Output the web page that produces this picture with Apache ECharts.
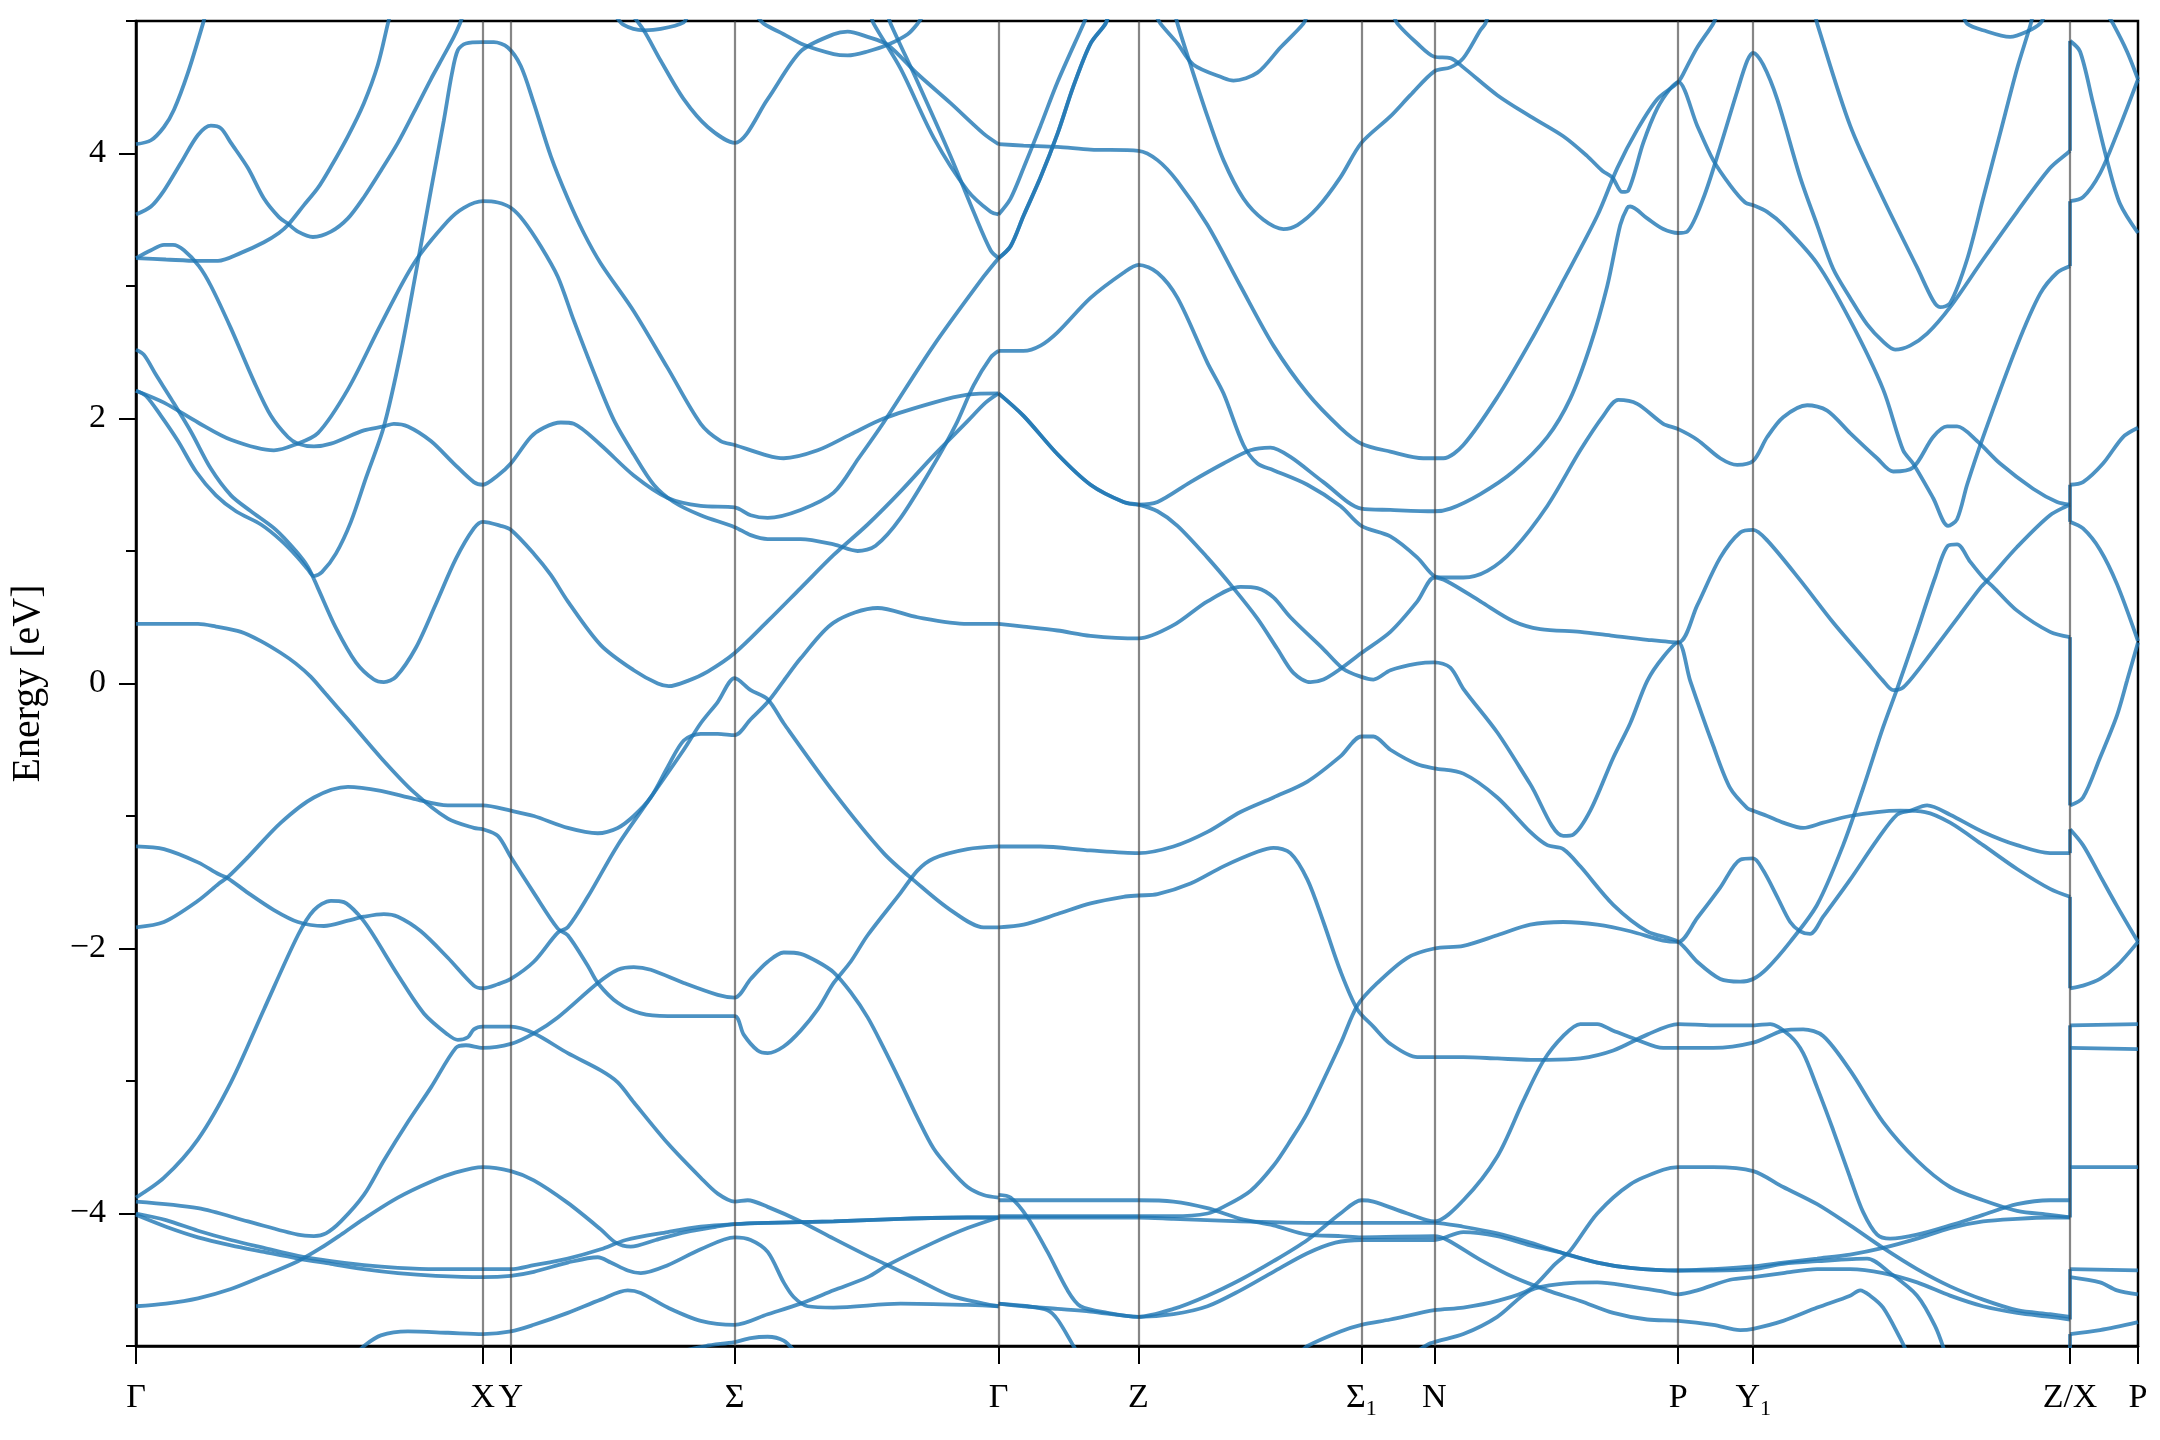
<!DOCTYPE html>
<html><head><meta charset="utf-8">
<script src="https://cdn.jsdelivr.net/npm/echarts@6/dist/echarts.min.js"></script>
<style>html,body{margin:0;padding:0;background:#fff}#c{width:2160px;height:1440px}</style>
</head><body><div id="c"></div>
<script>
// k-path positions (arbitrary path-length units) and labels
const kPoints = [0, 347, 375, 599, 863, 1003, 1226, 1299, 1543, 1618, 1935, 2003];
const kLabels = ['Γ','X','Y','Σ','Γ','Z','Σ1','N','P','Y1','Z/X','P'];
const eTicks = [-4, -2, 0, 2, 4];
const eMinorTicks = [-5, -3, -1, 1, 3, 5];

// ---- bands: [k, E(eV)] ----
const a1 = [[0,4.07],[15,4.1],[28,4.2],[38,4.33],[52,4.61],[67,4.98],[72,5.12]];
const a2 = [[0,3.54],[15,3.6],[28,3.72],[45,3.93],[62,4.14],[75,4.21],[85,4.19],[95,4.08],[112,3.89],[128,3.66],[143,3.52],[152,3.47],[162,3.41],[177,3.37],[195,3.41],[212,3.51],[228,3.67],[245,3.87],[262,4.08],[278,4.31],[295,4.56],[308,4.74],[318,4.88],[324,4.98],[328,5.06]];
const a3 = [[0,3.21],[30,3.2],[62,3.19],[82,3.19],[105,3.25],[128,3.33],[143,3.4],[152,3.46],[168,3.61],[182,3.74],[195,3.9],[212,4.13],[228,4.38],[242,4.67],[252,4.98],[256,5.1]];
const a4 = [[0,3.21],[15,3.27],[28,3.31],[37,3.31],[48,3.27],[63,3.15],[75,3.0],[95,2.68],[118,2.28],[135,2.02],[152,1.86],[162,1.81],[178,1.79],[195,1.81],[228,1.91],[248,1.94],[258,1.96],[272,1.94],[295,1.83],[318,1.66],[338,1.52],[347,1.5],[362,1.57],[375,1.66],[395,1.86],[408,1.93],[425,1.97],[438,1.96],[465,1.8],[498,1.57],[532,1.4],[565,1.34],[599,1.33],[615,1.27],[632,1.25],[665,1.31],[698,1.44],[723,1.7],[748,1.97],[798,2.55],[848,3.07],[863,3.21]];
const a5 = [[0,2.52],[8,2.48],[20,2.33],[35,2.15],[55,1.9],[75,1.62],[95,1.42],[115,1.3],[140,1.16],[160,1.0],[172,0.88],[182,0.72],[200,0.42],[220,0.16],[238,0.03],[248,0.01],[260,0.05],[280,0.27],[300,0.6],[320,0.94],[338,1.17],[347,1.22],[365,1.19],[375,1.16],[398,0.98],[415,0.82],[432,0.62],[465,0.29],[498,0.1],[522,0.0],[533,-0.02],[552,0.02],[572,0.09],[599,0.23],[632,0.47],[665,0.72],[698,0.97],[732,1.2],[765,1.45],[798,1.72],[832,1.98],[850,2.12],[863,2.19]];
const a6 = [[0,2.21],[10,2.17],[25,2.02],[42,1.83],[60,1.6],[80,1.42],[100,1.3],[125,1.2],[145,1.08],[162,0.95],[172,0.86],[178,0.81],[186,0.84],[200,0.98],[215,1.22],[230,1.55],[248,1.94],[265,2.5],[280,3.1],[295,3.72],[308,4.25],[316,4.6],[322,4.78],[330,4.83],[347,4.84],[358,4.84],[372,4.8],[385,4.66],[398,4.38],[415,3.98],[432,3.66],[448,3.4],[465,3.17],[498,2.81],[532,2.38],[565,1.96],[585,1.83],[599,1.8],[632,1.72],[648,1.7],[682,1.76],[715,1.88],[748,2.0],[798,2.12],[832,2.18],[863,2.19]];
const a7 = [[0,2.21],[28,2.12],[62,1.97],[95,1.84],[138,1.76],[158,1.8],[182,1.89],[212,2.22],[245,2.71],[278,3.17],[312,3.49],[328,3.59],[347,3.64],[362,3.63],[375,3.59],[388,3.49],[405,3.3],[422,3.07],[438,2.74],[458,2.35],[478,1.99],[498,1.73],[518,1.5],[538,1.37],[565,1.27],[599,1.18],[615,1.12],[632,1.09],[665,1.09],[698,1.05],[722,1.0],[740,1.04],[765,1.25],[798,1.65],[820,1.95],[838,2.25],[855,2.46],[863,2.51]];
const a8 = [[495,5.06],[508,4.93],[525,4.7],[548,4.41],[572,4.2],[599,4.08],[632,4.41],[665,4.77],[698,4.9],[712,4.92],[732,4.88],[752,4.82],[782,4.6],[815,4.38],[848,4.15],[863,4.07]];
const a9 = [[478,5.06],[488,4.97],[508,4.93],[525,4.94],[548,4.99],[552,5.05]];
const a10 = [[620,5.05],[628,4.98],[648,4.9],[668,4.82],[698,4.75],[712,4.74],[732,4.77],[752,4.82],[772,4.9],[782,4.98],[788,5.05]];
const a11 = [[735,5.05],[738,4.98],[765,4.64],[798,4.12],[832,3.72],[855,3.56],[863,3.54]];
const a12 = [[752,5.05],[755,4.98],[782,4.54],[815,3.98],[838,3.56],[855,3.27],[863,3.21]];
const d1 = [[0,0.45],[30,0.45],[62,0.45],[80,0.43],[105,0.39],[125,0.32],[145,0.23],[160,0.15],[175,0.05],[190,-0.08],[212,-0.27],[245,-0.56],[278,-0.82],[312,-1.02],[338,-1.09],[347,-1.1],[362,-1.15],[375,-1.31],[398,-1.58],[422,-1.85],[432,-1.9],[452,-2.13],[462,-2.26],[482,-2.41],[505,-2.49],[532,-2.51],[565,-2.51],[599,-2.51],[608,-2.65],[622,-2.77],[632,-2.79],[648,-2.74],[665,-2.62],[682,-2.46],[698,-2.26],[715,-2.1],[732,-1.9],[765,-1.58],[782,-1.41],[798,-1.32],[832,-1.25],[863,-1.23]];
const d2 = [[0,-1.23],[28,-1.25],[62,-1.35],[83,-1.44],[92,-1.47],[112,-1.58],[138,-1.71],[162,-1.8],[188,-1.83],[212,-1.79],[228,-1.76],[248,-1.74],[262,-1.76],[285,-1.87],[312,-2.07],[338,-2.28],[347,-2.3],[362,-2.27],[375,-2.23],[398,-2.1],[422,-1.88],[432,-1.84],[452,-1.61],[482,-1.22],[515,-0.86],[548,-0.5],[565,-0.3],[582,-0.14],[599,0.04],[615,-0.05],[632,-0.12],[648,-0.3],[698,-0.82],[748,-1.28],[782,-1.51],[815,-1.71],[848,-1.84],[863,-1.84]];
const d3 = [[0,-1.84],[28,-1.8],[62,-1.64],[83,-1.51],[92,-1.46],[112,-1.31],[145,-1.05],[178,-0.86],[212,-0.78],[245,-0.81],[278,-0.87],[312,-0.92],[347,-0.92],[375,-0.96],[398,-1.0],[432,-1.09],[462,-1.13],[482,-1.09],[498,-1.0],[515,-0.86],[532,-0.63],[548,-0.43],[565,-0.38],[582,-0.38],[599,-0.39],[615,-0.27],[632,-0.14],[648,0.02],[665,0.19],[698,0.46],[742,0.57],[782,0.5],[832,0.45],[863,0.45]];
const d4 = [[0,-3.88],[28,-3.73],[62,-3.44],[95,-3.01],[128,-2.46],[162,-1.9],[178,-1.71],[195,-1.64],[208,-1.65],[222,-1.74],[235,-1.87],[262,-2.2],[288,-2.49],[312,-2.65],[322,-2.69],[332,-2.67],[338,-2.61],[347,-2.59],[375,-2.59],[398,-2.64],[432,-2.79],[465,-2.92],[482,-3.01],[498,-3.16],[532,-3.47],[565,-3.73],[582,-3.85],[599,-3.91],[612,-3.9],[632,-3.95],[665,-4.06],[698,-4.19],[732,-4.32],[752,-4.39],[782,-4.5],[815,-4.62],[848,-4.68],[863,-4.7]];
const d5 = [[0,-3.91],[62,-3.96],[112,-4.06],[162,-4.16],[178,-4.17],[190,-4.15],[205,-4.06],[228,-3.86],[248,-3.6],[272,-3.31],[295,-3.05],[320,-2.75],[330,-2.73],[347,-2.75],[375,-2.72],[398,-2.64],[422,-2.52],[462,-2.26],[482,-2.16],[498,-2.14],[515,-2.16],[548,-2.26],[582,-2.35],[599,-2.37],[615,-2.23],[632,-2.1],[648,-2.03],[665,-2.04],[682,-2.1],[698,-2.18],[715,-2.33],[732,-2.52],[748,-2.75],[765,-3.01],[782,-3.28],[798,-3.51],[815,-3.67],[832,-3.8],[848,-3.86],[863,-3.88]];
const b1 = [[0,-4.0],[30,-4.05],[62,-4.13],[95,-4.2],[128,-4.26],[162,-4.32],[195,-4.36],[228,-4.39],[262,-4.41],[300,-4.42],[347,-4.42],[375,-4.42],[398,-4.39],[432,-4.34],[465,-4.27],[490,-4.2],[532,-4.14],[565,-4.1],[599,-4.08],[632,-4.07],[698,-4.06],[765,-4.04],[832,-4.03],[863,-4.03]];
const b2 = [[0,-4.01],[30,-4.1],[62,-4.18],[95,-4.24],[128,-4.29],[162,-4.34],[195,-4.38],[228,-4.42],[262,-4.45],[300,-4.47],[347,-4.48],[375,-4.47],[398,-4.44],[432,-4.37],[462,-4.33],[475,-4.37],[492,-4.43],[505,-4.45],[532,-4.39],[565,-4.27],[599,-4.18],[615,-4.2],[632,-4.29],[648,-4.52],[658,-4.63],[672,-4.7],[698,-4.71],[765,-4.68],[832,-4.69],[863,-4.7]];
const b3 = [[0,-4.7],[30,-4.68],[62,-4.64],[95,-4.57],[128,-4.47],[162,-4.36],[185,-4.26],[205,-4.16],[228,-4.04],[262,-3.88],[295,-3.76],[320,-3.69],[347,-3.65],[375,-3.68],[398,-3.75],[432,-3.92],[465,-4.12],[480,-4.22],[495,-4.25],[520,-4.2],[550,-4.14],[580,-4.1],[599,-4.08],[632,-4.07],[698,-4.06],[765,-4.04],[832,-4.03],[863,-4.03]];
const b5 = [[222,-5.05],[228,-5.0],[245,-4.92],[272,-4.89],[312,-4.9],[347,-4.91],[375,-4.89],[398,-4.84],[432,-4.75],[465,-4.65],[492,-4.58],[505,-4.6],[532,-4.71],[565,-4.81],[599,-4.84],[632,-4.76],[665,-4.68],[698,-4.58],[732,-4.48],[752,-4.39],[798,-4.22],[832,-4.11],[863,-4.03]];
const b6 = [[540,-5.05],[570,-5.0],[599,-4.97],[615,-4.94],[632,-4.93],[648,-4.96],[660,-5.05]];
const e1 = [[863,4.07],[888,4.06],[922,4.05],[955,4.03],[1003,4.02],[1022,3.95],[1042,3.79],[1072,3.46],[1105,3.0],[1138,2.55],[1172,2.19],[1205,1.93],[1226,1.81],[1255,1.75],[1288,1.7],[1299,1.7],[1308,1.7],[1328,1.8],[1362,2.16],[1395,2.58],[1428,3.04],[1462,3.53],[1482,3.89],[1502,4.18],[1522,4.41],[1543,4.54],[1552,4.66],[1562,4.8],[1578,4.98],[1582,5.05]];
const e2 = [[863,3.54],[875,3.66],[888,3.89],[905,4.21],[922,4.54],[948,4.98],[952,5.05]];
const e3 = [[863,3.21],[875,3.3],[888,3.53],[905,3.82],[922,4.15],[938,4.51],[955,4.83],[970,4.98],[973,5.05]];
const e4 = [[863,2.51],[888,2.51],[905,2.55],[922,2.65],[955,2.91],[988,3.1],[1003,3.16],[1022,3.1],[1042,2.91],[1072,2.42],[1088,2.19],[1108,1.8],[1122,1.66],[1138,1.61],[1172,1.5],[1205,1.34],[1226,1.19],[1255,1.11],[1282,0.95],[1299,0.81],[1308,0.8],[1328,0.8],[1352,0.85],[1378,1.01],[1412,1.34],[1445,1.76],[1468,2.02],[1483,2.14],[1502,2.11],[1528,1.96],[1543,1.92],[1562,1.84],[1585,1.7],[1602,1.65],[1618,1.68],[1632,1.86],[1648,2.01],[1672,2.1],[1692,2.06],[1715,1.89],[1742,1.7],[1758,1.6],[1778,1.63],[1798,1.86],[1812,1.94],[1822,1.94],[1842,1.83],[1865,1.66],[1898,1.47],[1922,1.37],[1935,1.35]];
const e5 = [[863,2.19],[888,2.02],[922,1.73],[955,1.5],[988,1.37],[1003,1.35],[1022,1.37],[1055,1.52],[1088,1.66],[1115,1.76],[1135,1.78],[1155,1.71],[1188,1.52],[1226,1.32],[1255,1.31],[1299,1.3],[1315,1.32],[1345,1.43],[1378,1.6],[1412,1.86],[1435,2.15],[1455,2.55],[1472,3.0],[1485,3.46],[1492,3.59],[1495,3.6],[1512,3.51],[1528,3.43],[1543,3.4],[1552,3.41],[1568,3.66],[1585,4.05],[1602,4.47],[1612,4.7],[1618,4.76],[1628,4.67],[1642,4.41],[1665,3.82],[1682,3.46],[1698,3.13],[1715,2.91],[1732,2.71],[1748,2.58],[1760,2.52],[1775,2.55],[1792,2.64],[1815,2.84],[1848,3.2],[1882,3.56],[1915,3.89],[1932,4.0],[1935,4.02]];
const h1 = [[863,2.19],[888,2.02],[922,1.73],[955,1.5],[988,1.37],[1003,1.35],[1022,1.3],[1042,1.19],[1072,0.95],[1098,0.72],[1122,0.49],[1142,0.26],[1158,0.08],[1175,0.01],[1188,0.03],[1205,0.11],[1226,0.23],[1255,0.39],[1282,0.62],[1299,0.8],[1312,0.77],[1345,0.62],[1378,0.47],[1405,0.41],[1445,0.39],[1478,0.36],[1512,0.33],[1543,0.31],[1562,0.59],[1585,0.95],[1605,1.14],[1618,1.16],[1632,1.08],[1665,0.78],[1698,0.46],[1732,0.16],[1748,0.02],[1758,-0.05],[1768,-0.03],[1785,0.12],[1805,0.32],[1825,0.52],[1845,0.72],[1855,0.8],[1882,1.03],[1915,1.27],[1935,1.35]];
const e6 = [[863,0.45],[888,0.43],[922,0.4],[955,0.36],[1003,0.34],[1038,0.44],[1072,0.62],[1105,0.73],[1122,0.72],[1138,0.65],[1155,0.5],[1188,0.26],[1208,0.11],[1226,0.05],[1238,0.03],[1255,0.1],[1282,0.15],[1299,0.16],[1315,0.12],[1328,-0.04],[1362,-0.37],[1395,-0.76],[1428,-1.15],[1438,-1.14],[1455,-0.96],[1478,-0.56],[1495,-0.3],[1512,0.02],[1528,0.2],[1543,0.31],[1555,0.02],[1578,-0.47],[1595,-0.79],[1612,-0.94],[1618,-0.96],[1632,-1.0],[1648,-1.05],[1668,-1.09],[1688,-1.05],[1715,-1.0],[1742,-0.97],[1765,-0.96],[1790,-0.97],[1815,-1.05],[1848,-1.22],[1882,-1.4],[1915,-1.55],[1935,-1.61]];
const e7 = [[863,-1.23],[905,-1.23],[955,-1.26],[1003,-1.28],[1038,-1.23],[1072,-1.12],[1105,-0.97],[1138,-0.86],[1172,-0.74],[1205,-0.55],[1226,-0.4],[1238,-0.4],[1255,-0.5],[1282,-0.61],[1299,-0.64],[1328,-0.68],[1362,-0.86],[1395,-1.12],[1412,-1.22],[1428,-1.25],[1445,-1.38],[1478,-1.67],[1512,-1.87],[1543,-1.95],[1562,-2.1],[1585,-2.23],[1605,-2.25],[1618,-2.23],[1632,-2.15],[1655,-1.95],[1682,-1.67],[1708,-1.22],[1728,-0.79],[1748,-0.33],[1762,-0.04],[1780,0.35],[1800,0.8],[1813,1.04],[1822,1.05],[1835,0.92],[1848,0.8],[1858,0.73],[1882,0.55],[1915,0.39],[1935,0.35]];
const e8 = [[863,-1.84],[888,-1.82],[922,-1.74],[955,-1.66],[988,-1.61],[1003,-1.6],[1022,-1.59],[1055,-1.51],[1088,-1.38],[1122,-1.27],[1138,-1.24],[1155,-1.28],[1172,-1.48],[1188,-1.8],[1205,-2.17],[1222,-2.46],[1238,-2.59],[1255,-2.72],[1282,-2.82],[1299,-2.82],[1328,-2.82],[1362,-2.83],[1395,-2.84],[1412,-2.84],[1445,-2.83],[1478,-2.77],[1512,-2.65],[1543,-2.57],[1578,-2.58],[1618,-2.58],[1635,-2.57],[1655,-2.66],[1668,-2.79],[1682,-3.05],[1698,-3.37],[1715,-3.73],[1728,-3.99],[1742,-4.16],[1755,-4.19],[1782,-4.16],[1815,-4.09],[1848,-4.01],[1882,-3.93],[1915,-3.9],[1935,-3.9]];
const e9 = [[863,-4.02],[905,-4.02],[955,-4.02],[1003,-4.02],[1038,-4.02],[1072,-4.0],[1088,-3.95],[1115,-3.83],[1138,-3.64],[1155,-3.45],[1172,-3.24],[1205,-2.72],[1222,-2.43],[1242,-2.26],[1272,-2.07],[1299,-2.0],[1328,-1.98],[1362,-1.9],[1395,-1.82],[1428,-1.8],[1462,-1.82],[1495,-1.87],[1528,-1.94],[1543,-1.95],[1562,-1.77],[1585,-1.54],[1605,-1.33],[1618,-1.32],[1628,-1.41],[1642,-1.61],[1655,-1.8],[1665,-1.87],[1675,-1.89],[1688,-1.76],[1715,-1.48],[1742,-1.18],[1762,-0.99],[1775,-0.96],[1792,-0.92],[1815,-0.99],[1848,-1.12],[1882,-1.22],[1915,-1.28],[1935,-1.28]];
const e10 = [[863,-3.9],[905,-3.9],[955,-3.9],[1003,-3.9],[1038,-3.91],[1072,-3.96],[1105,-4.04],[1138,-4.09],[1172,-4.16],[1205,-4.17],[1226,-4.18],[1299,-4.17],[1312,-4.2],[1345,-4.35],[1378,-4.48],[1412,-4.58],[1445,-4.66],[1478,-4.75],[1512,-4.8],[1543,-4.81],[1578,-4.84],[1605,-4.88],[1618,-4.87],[1648,-4.81],[1682,-4.71],[1715,-4.62],[1725,-4.58],[1735,-4.62],[1748,-4.71],[1765,-4.94],[1772,-5.05]];
const e11 = [[863,-3.86],[875,-3.88],[892,-4.03],[912,-4.29],[932,-4.58],[945,-4.7],[972,-4.75],[1003,-4.78],[1038,-4.72],[1072,-4.62],[1105,-4.5],[1138,-4.36],[1172,-4.2],[1205,-4.0],[1226,-3.9],[1238,-3.91],[1272,-4.0],[1299,-4.06],[1328,-3.9],[1362,-3.57],[1388,-3.15],[1408,-2.85],[1428,-2.66],[1445,-2.57],[1462,-2.57],[1478,-2.62],[1502,-2.69],[1528,-2.75],[1543,-2.75],[1578,-2.75],[1618,-2.71],[1648,-2.62],[1668,-2.61],[1688,-2.66],[1715,-2.92],[1748,-3.31],[1782,-3.6],[1815,-3.8],[1848,-3.9],[1882,-3.98],[1915,-4.01],[1935,-4.03]];
const e12 = [[863,-4.03],[955,-4.03],[1003,-4.03],[1038,-4.04],[1105,-4.06],[1172,-4.07],[1226,-4.07],[1299,-4.07],[1328,-4.1],[1362,-4.15],[1395,-4.22],[1428,-4.3],[1462,-4.37],[1495,-4.41],[1543,-4.43],[1578,-4.42],[1618,-4.4],[1648,-4.37],[1682,-4.34],[1715,-4.31],[1748,-4.26],[1782,-4.19],[1815,-4.11],[1848,-4.06],[1882,-4.04],[1915,-4.03],[1935,-4.03]];
const e13 = [[863,-4.68],[888,-4.7],[922,-4.72],[955,-4.74],[1003,-4.78],[1038,-4.76],[1072,-4.7],[1105,-4.58],[1138,-4.44],[1172,-4.3],[1200,-4.22],[1226,-4.2],[1299,-4.2],[1328,-4.14],[1362,-4.17],[1395,-4.24],[1428,-4.3],[1462,-4.37],[1495,-4.41],[1543,-4.43],[1578,-4.43],[1618,-4.42],[1648,-4.38],[1682,-4.36],[1732,-4.34],[1755,-4.45],[1782,-4.62],[1800,-4.85],[1810,-5.05]];
const e14 = [[863,-4.68],[892,-4.7],[912,-4.73],[922,-4.8],[938,-5.0],[942,-5.05]];
const e15 = [[1165,-5.05],[1172,-5.0],[1205,-4.89],[1226,-4.84],[1255,-4.8],[1299,-4.73],[1328,-4.71],[1362,-4.66],[1395,-4.57],[1420,-4.38],[1435,-4.28],[1462,-4.0],[1495,-3.78],[1528,-3.67],[1543,-3.65],[1578,-3.65],[1618,-3.68],[1648,-3.8],[1682,-3.93],[1715,-4.09],[1748,-4.26],[1782,-4.42],[1815,-4.55],[1848,-4.65],[1882,-4.73],[1915,-4.76],[1935,-4.78]];
const e16 = [[1280,-5.05],[1295,-4.98],[1328,-4.91],[1362,-4.78],[1395,-4.58],[1428,-4.53],[1462,-4.52],[1495,-4.55],[1528,-4.59],[1543,-4.61],[1562,-4.58],[1595,-4.5],[1618,-4.48],[1648,-4.45],[1682,-4.42],[1715,-4.42],[1748,-4.45],[1782,-4.52],[1815,-4.62],[1848,-4.7],[1882,-4.75],[1915,-4.78],[1935,-4.8]];
const e17 = [[1020,5.05],[1025,4.98],[1042,4.83],[1058,4.67],[1088,4.57],[1098,4.55],[1122,4.61],[1145,4.8],[1168,4.98],[1172,5.05]];
const e18 = [[1038,5.1],[1042,4.98],[1055,4.67],[1072,4.28],[1088,3.95],[1108,3.66],[1128,3.5],[1148,3.43],[1162,3.46],[1182,3.59],[1205,3.82],[1226,4.08],[1255,4.28],[1275,4.44],[1299,4.62],[1315,4.65],[1328,4.72],[1345,4.93],[1350,4.98],[1353,5.05]];
const e19 = [[1258,5.05],[1262,4.98],[1282,4.83],[1299,4.73],[1315,4.72],[1328,4.65],[1362,4.44],[1395,4.28],[1428,4.13],[1452,3.98],[1467,3.87],[1477,3.82],[1487,3.71],[1493,3.72],[1508,4.08],[1522,4.34],[1535,4.49],[1543,4.54],[1562,4.21],[1578,3.95],[1595,3.76],[1610,3.63],[1618,3.61],[1632,3.56],[1648,3.46],[1682,3.17],[1715,2.74],[1748,2.22],[1768,1.76],[1778,1.66],[1798,1.4],[1813,1.19],[1822,1.24],[1832,1.5],[1848,1.86],[1882,2.55],[1905,2.94],[1922,3.1],[1935,3.15]];
const f1 = [[1680,5.05],[1682,4.98],[1715,4.21],[1748,3.66],[1782,3.14],[1798,2.89],[1805,2.84],[1815,2.87],[1832,3.2],[1848,3.66],[1865,4.15],[1882,4.64],[1895,4.96],[1898,5.05]];
const f2 = [[1828,5.05],[1832,4.98],[1848,4.93],[1875,4.88],[1892,4.92],[1905,4.98],[1910,5.05]];
const g1 = [[1935,4.85],[1945,4.77],[1958,4.38],[1972,3.95],[1985,3.62],[2003,3.4]];
const g2 = [[1935,3.64],[1948,3.67],[1965,3.85],[1982,4.15],[2003,4.56]];
const g3 = [[1972,5.05],[1978,4.98],[1992,4.77],[2003,4.56]];
const g4 = [[1935,1.5],[1948,1.52],[1968,1.66],[1988,1.86],[2003,1.93]];
const g5 = [[1935,1.22],[1948,1.17],[1965,1.01],[1982,0.75],[2003,0.32]];
const g6 = [[1935,-0.92],[1948,-0.86],[1965,-0.56],[1982,-0.24],[1992,0.02],[2003,0.31]];
const g7 = [[1935,-1.1],[1948,-1.22],[1965,-1.45],[1982,-1.68],[2003,-1.95]];
const g8 = [[1935,-2.3],[1948,-2.28],[1965,-2.23],[1982,-2.13],[2003,-1.95]];
const g9 = [[1935,-2.58],[2003,-2.57]];
const g10 = [[1935,-2.75],[2003,-2.76]];
const g11 = [[1935,-3.65],[2003,-3.65]];
const g12 = [[1935,-4.42],[2003,-4.43]];
const g13 = [[1935,-4.48],[1965,-4.52],[1982,-4.58],[2003,-4.61]];
const g14 = [[1935,-4.91],[1965,-4.88],[2003,-4.82]];
// energy jumps at the Z/X discontinuity
const zxJumps = [[-5.05,-4.91],[-4.8,-4.42],[-4.03,-2.58],[-2.3,-1.61],[-1.28,-1.1],[-0.92,0.35],[1.22,1.5],[3.15,3.64],[4.02,4.85]];

const bands = [a1,a2,a3,a4,a5,a6,a7,a8,a9,a10,a11,a12,d1,d2,d3,d4,d5,b1,b2,b3,b5,b6,
  e1,e2,e3,e3,e4,e5,h1,e6,e7,e8,e9,e10,e11,e12,e13,e14,e15,e16,e17,e18,e19,f1,f2,
  g1,g2,g3,g4,g5,g6,g7,g8,g9,g10,g11,g12,g13,g14];

const FONT = 'Liberation Serif';
const lineColor = 'rgba(31,119,180,0.8)';
const zxK = kPoints[10];

const series = bands.map(d => ({
  type:'line', data:d, smooth:0.3, symbol:'none', silent:true, z:3,
  lineStyle:{color:lineColor, width:3.8}
}));
zxJumps.forEach(j => series.push({
  type:'line', data:[[zxK,j[0]],[zxK,j[1]]], smooth:false, symbol:'none', silent:true, z:3,
  lineStyle:{color:lineColor, width:3.8}
}));
series.push({
  type:'line', data:[], silent:true, z:2,
  markLine:{silent:true, symbol:['none','none'], label:{show:false},
    lineStyle:{color:'rgba(60,60,60,0.62)', width:2.2, type:'solid'},
    data: kPoints.slice(1, kPoints.length-1).map(v => ({xAxis:v}))}
});

function fmtK(v){
  const i = kPoints.indexOf(v);
  if (i < 0) return '';
  const lab = kLabels[i];
  if (lab === 'Σ1') return '{m|Σ}{s|1}';
  if (lab === 'Y1') return '{m|Y}{s|1}';
  return '{m|' + lab + '}';
}

const chart = echarts.init(document.getElementById('c'), null, {renderer:'canvas'});
chart.setOption({
  animation:false,
  backgroundColor:'#fff',
  grid:{left:135, right:22, top:21, bottom:94, show:true, borderColor:'#000', borderWidth:2.5, backgroundColor:'transparent'},
  xAxis:{type:'value', min:0, max:2003,
    axisLine:{show:true, onZero:false, lineStyle:{color:'#000', width:2.5}},
    axisTick:{show:true, customValues:kPoints, length:18, lineStyle:{color:'#000', width:2}},
    axisLabel:{customValues:kPoints, formatter:fmtK, margin:30, color:'#000',
      rich:{m:{fontFamily:FONT, fontSize:34, color:'#000', lineHeight:44, verticalAlign:'middle'},
            s:{fontFamily:FONT, fontSize:22, color:'#000', lineHeight:44, verticalAlign:'bottom', padding:[14,0,0,0]}}},
    splitLine:{show:false}},
  yAxis:[{type:'value', min:-5, max:5, position:'left',
    name:'Energy [eV]', nameLocation:'middle', nameGap:88, nameRotate:90,
    nameTextStyle:{fontFamily:FONT, fontSize:40, color:'#000'},
    axisLine:{show:true, onZero:false, lineStyle:{color:'#000', width:2.5}},
    axisTick:{show:true, customValues:eTicks, length:17, lineStyle:{color:'#000', width:2}},
    axisLabel:{customValues:eTicks, margin:30, fontFamily:FONT, fontSize:34, color:'#000',
      formatter:v => (v < 0 ? '\u2212' + Math.abs(v) : String(v))},
    splitLine:{show:false}},
   {type:'value', min:-5, max:5, position:'left',
    axisLine:{show:false},
    axisTick:{show:true, customValues:eMinorTicks, length:10, lineStyle:{color:'#000', width:2}},
    axisLabel:{show:false}, splitLine:{show:false}}],
  series: series
});
</script></body></html>
